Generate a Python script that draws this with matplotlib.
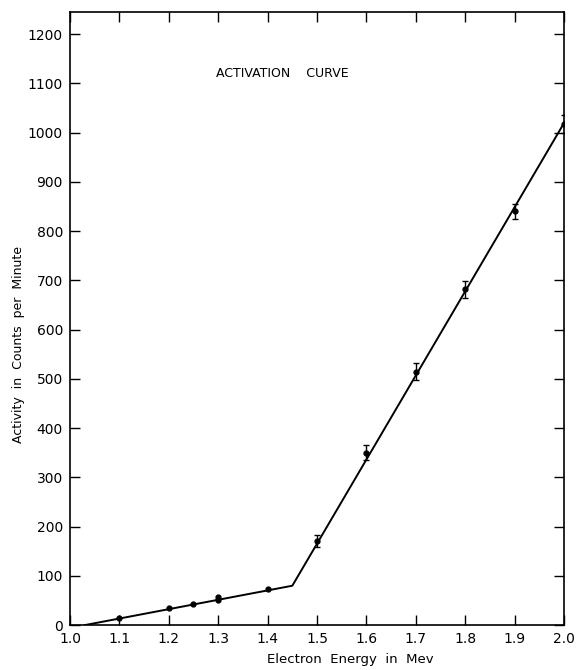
import matplotlib
matplotlib.use("Agg")
import matplotlib.pyplot as plt
import numpy as np

# Measured activity vs. electron energy
energy = [1.1, 1.2, 1.25, 1.3, 1.3, 1.4, 1.5, 1.6, 1.7, 1.8, 1.9, 2.0]
activity = [15, 35, 43, 52, 58, 73, 170, 350, 515, 682, 840, 1018]
error = [0, 0, 0, 0, 0, 0, 12, 15, 18, 17, 16, 18]

# Fitted two-segment curve
fit_energy = [1.03, 1.45, 2.0]
fit_activity = [0, 80, 1020]

xticks = [1.0, 1.1, 1.2, 1.3, 1.4, 1.5, 1.6, 1.7, 1.8, 1.9, 2.0]
xtick_labels = ["1.0", "1.1", "1.2", "1.3", "1.4", "1.5", "1.6", "1.7", "1.8", "1.9", "2.0"]
yticks = [0, 100, 200, 300, 400, 500, 600, 700, 800, 900, 1000, 1100, 1200]

plt.rcParams['font.family'] = ['DejaVu Sans']

fig = plt.figure(figsize=(5.78, 6.70), dpi=100)
ax = fig.add_axes([0.121, 0.067, 0.855, 0.915])

ax.plot(fit_energy, fit_activity, color="black", lw=1.4)

err = np.array(error, dtype=float)
has_err = err > 0
e = np.array(energy)
a = np.array(activity)
ax.errorbar(e[has_err], a[has_err], yerr=err[has_err], fmt="o", ms=3.5,
            color="black", ecolor="black", elinewidth=1.0, capsize=2.5, capthick=1.0)
ax.plot(e[~has_err], a[~has_err], "o", ms=3.5, color="black")

ax.set_xlim(1.0, 2.0)
ax.set_ylim(0, 1245)
ax.set_xticks(xticks)
ax.set_xticklabels(xtick_labels)
ax.set_yticks(yticks)

ax.tick_params(direction="in", length=7, width=1.0, top=True, right=True,
               labelsize=10, pad=5)
for s in ax.spines.values():
    s.set_linewidth(1.2)

ax.set_xlabel("Electron  Energy  in  Mev", fontsize=9.5)
ax.xaxis.set_label_coords(0.567, -0.046)
ax.set_ylabel("Activity  in  Counts  per  Minute", fontsize=9)
ax.yaxis.set_label_coords(-0.09, 0.457)

ax.text(1.295, 1120, "ACTIVATION    CURVE", fontsize=9, ha="left", va="center")

fig.savefig("out.png", dpi=100)
